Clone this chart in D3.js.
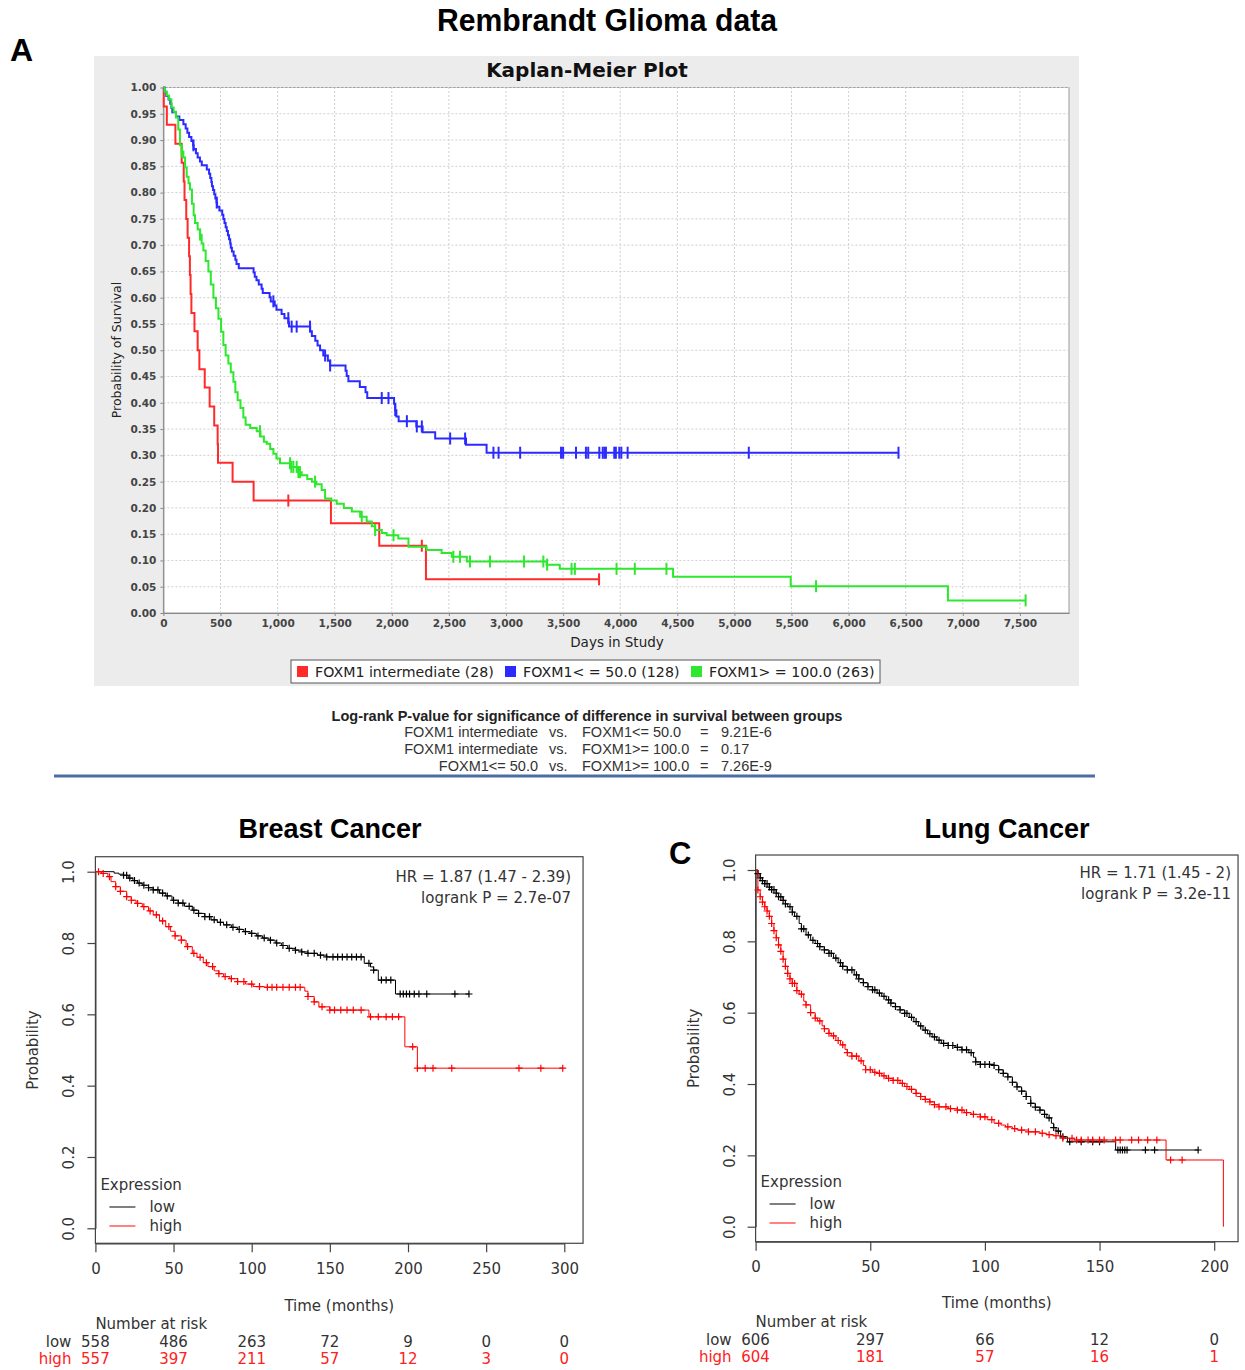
<!DOCTYPE html>
<html>
<head>
<meta charset="utf-8">
<script src="https://cdn.jsdelivr.net/npm/d3@7"></script>
<style>
  body { margin: 0; background: #fff; }
  svg { display: block; }
</style>
</head>
<body>
<div id="fig"></div>
<script>
// ---------- Panel A: Rembrandt glioma, days in study ----------
// [day, survival after the drop]
const kmRedSteps = [[0,1.0],[3,0.964],[30,0.929],[105,0.893],[160,0.857],[178,0.821],[185,0.786],[200,0.75],
  [212,0.714],[225,0.679],[232,0.643],[238,0.607],[245,0.571],[272,0.536],[300,0.50],[315,0.464],[362,0.429],
  [405,0.393],[445,0.357],[475,0.321],[478,0.286],[606,0.25],[790,0.214],[1467,0.171],[1890,0.128],[2299,0.064]];
const kmRedCensor = [1094, 2263, 3815];

const kmBlueSteps = [[0,1.0],[10,0.992],[25,0.984],[45,0.977],[60,0.969],[70,0.961],[78,0.953],[110,0.945],
  [140,0.938],[175,0.93],[195,0.922],[210,0.914],[225,0.906],[245,0.898],[260,0.89],[265,0.883],[285,0.875],
  [300,0.867],[320,0.859],[336,0.852],[380,0.844],[400,0.836],[410,0.828],[420,0.82],[425,0.812],[435,0.805],
  [445,0.797],[455,0.789],[465,0.781],[470,0.773],[490,0.766],[515,0.758],[525,0.75],[535,0.742],[545,0.734],
  [555,0.727],[565,0.719],[575,0.711],[585,0.703],[590,0.695],[600,0.688],[615,0.68],[630,0.672],[640,0.664],
  [660,0.656],[790,0.648],[800,0.64],[815,0.633],[835,0.625],[860,0.617],[870,0.609],[930,0.601],[940,0.593],
  [975,0.585],[990,0.577],[1035,0.569],[1060,0.561],[1095,0.553],[1100,0.545],[1285,0.536],[1300,0.527],
  [1330,0.518],[1350,0.509],[1372,0.50],[1400,0.49],[1440,0.48],[1460,0.471],[1595,0.461],[1605,0.451],
  [1620,0.441],[1720,0.43],[1770,0.42],[1785,0.409],[2020,0.398],[2030,0.386],[2040,0.374],[2060,0.365],
  [2215,0.355],[2270,0.344],[2380,0.332],[2650,0.32],[2830,0.305]];
const kmBlueCensor = [263, 467, 963, 1094, 1123, 1167, 1284, 1416, 1460, 1912, 1971, 2030, 2132, 2219, 2263,
  2511, 2642, 2890, 2935, 3124, 3482, 3500, 3613, 3700, 3720, 3817, 3847, 3862, 3875, 3948, 3962, 3992, 4010,
  4065, 5126, 6437];

const kmGreenSteps = [[0,1.0],[10,0.992],[30,0.985],[50,0.977],[70,0.962],[90,0.954],[110,0.943],[130,0.92],
  [145,0.89],[160,0.878],[175,0.867],[190,0.848],[204,0.83],[220,0.818],[233,0.806],[250,0.779],[265,0.757],
  [277,0.742],[300,0.73],[321,0.72],[335,0.703],[350,0.69],[370,0.67],[394,0.65],[415,0.625],[438,0.60],
  [460,0.58],[482,0.56],[505,0.535],[525,0.51],[545,0.49],[569,0.475],[590,0.458],[613,0.44],[630,0.42],
  [650,0.405],[675,0.39],[700,0.372],[720,0.358],[760,0.352],[817,0.346],[850,0.336],[880,0.326],[905,0.322],
  [935,0.312],[963,0.303],[990,0.294],[1021,0.285],[1110,0.278],[1180,0.268],[1211,0.262],[1260,0.255],
  [1300,0.25],[1340,0.245],[1386,0.234],[1416,0.218],[1470,0.214],[1518,0.208],[1580,0.2],[1650,0.193],
  [1723,0.183],[1780,0.174],[1825,0.165],[1854,0.158],[1912,0.152],[1955,0.148],[2057,0.142],[2146,0.126],
  [2305,0.12],[2436,0.114],[2525,0.107],[2657,0.098],[3355,0.092],[3471,0.084],[4463,0.069],[5493,0.051],
  [6870,0.024]];
const kmGreenCensor = [160, 321, 846, 1109, 1120, 1138, 1167, 1182, 1196, 1328, 1737, 1854, 2015, 2539, 2597,
  2685, 2860, 3158, 3327, 3360, 3574, 3603, 3968, 4128, 4405, 5715, 7550];

const kmLegend = ["FOXM1 intermediate (28)", "FOXM1< = 50.0 (128)", "FOXM1> = 100.0 (263)"];
const kmColors = ["#ff2a2a", "#2b2bff", "#2ee82e"];
const kmYTicks = d3.range(0, 1.0001, 0.05);
const kmXTicks = d3.range(0, 7501, 500);

const logrankLeft = ["FOXM1 intermediate", "FOXM1 intermediate", "FOXM1<= 50.0"];
const logrankRight = ["FOXM1<= 50.0", "FOXM1>= 100.0", "FOXM1>= 100.0"];
const logrankP = ["9.21E-6", "0.17", "7.26E-9"];

// ---------- Panel B: breast cancer, months ----------
const breastLowSteps = [[0,1.0],[12,0.996],[15,0.993],[18,0.99],[21,0.982],[24,0.975],[27,0.968],[30,0.962],
  [34,0.955],[37,0.949],[41,0.94],[45,0.932],[49,0.92],[53,0.912],[57,0.903],[62,0.892],[66,0.883],[70,0.874],
  [74,0.865],[78,0.858],[82,0.851],[87,0.844],[91,0.838],[95,0.832],[99,0.827],[103,0.82],[107,0.814],
  [111,0.808],[115,0.8],[119,0.793],[123,0.785],[128,0.78],[132,0.775],[136,0.771],[142,0.766],[148,0.761],
  [172,0.743],[176,0.733],[178,0.724],[181,0.696],[192,0.657]];
const breastLowCensor = [18, 20, 22, 25, 28, 31, 34, 37, 40, 43, 46, 50, 53, 56, 60, 63, 66, 70, 73, 76, 80,
  84, 88, 92, 96, 100, 104, 108, 112, 116, 120, 124, 128, 132, 136, 140, 144, 148, 152, 155, 158, 161, 164,
  167, 170, 175, 178, 183, 186, 189, 195, 197, 199, 201, 204, 207, 212, 230, 239];
const breastHighSteps = [[0,1.0],[4,0.995],[8,0.986],[10,0.972],[13,0.958],[16,0.945],[20,0.93],[23,0.92],
  [26,0.911],[30,0.902],[34,0.89],[37,0.879],[41,0.862],[45,0.846],[48,0.833],[51,0.82],[55,0.808],[58,0.79],
  [62,0.771],[65,0.76],[69,0.745],[72,0.734],[76,0.722],[79,0.714],[82,0.706],[86,0.7],[91,0.692],[96,0.685],
  [101,0.678],[108,0.676],[134,0.665],[136,0.65],[140,0.635],[143,0.621],[150,0.612],[175,0.593],[198,0.509],
  [206,0.449]];
const breastHighCensor = [2, 5, 9, 13, 16, 20, 23, 27, 31, 35, 39, 43, 47, 51, 55, 59, 63, 67, 71, 75, 79, 83,
  87, 91, 95, 100, 105, 110, 113, 116, 120, 124, 128, 131, 136, 140, 145, 150, 153, 157, 161, 165, 170, 176,
  181, 186, 190, 194, 203, 206, 211, 216, 228, 271, 285, 299];
const breastRiskTimes = [0, 50, 100, 150, 200, 250, 300];
const breastRiskLow = [558, 486, 263, 72, 9, 0, 0];
const breastRiskHigh = [557, 397, 211, 57, 12, 3, 0];
const breastStats = ["HR = 1.87 (1.47 - 2.39)", "logrank P = 2.7e-07"];

// ---------- Panel C: lung cancer, months ----------
const lungLowSteps = [[0,1.0],[1,0.99],[2,0.978],[3,0.97],[4,0.962],[6,0.952],[7,0.945],[9,0.935],[10,0.925],
  [12,0.915],[13,0.905],[14,0.897],[16,0.882],[17,0.87],[19,0.85],[20,0.835],[22,0.818],[24,0.803],[26,0.794],
  [28,0.785],[30,0.776],[32,0.766],[34,0.753],[36,0.74],[38,0.73],[40,0.72],[43,0.706],[45,0.695],[47,0.684],
  [49,0.673],[51,0.664],[53,0.655],[55,0.646],[57,0.636],[59,0.627],[61,0.617],[63,0.608],[65,0.598],
  [67,0.587],[69,0.575],[71,0.563],[73,0.551],[75,0.541],[77,0.532],[79,0.523],[81,0.514],[84,0.508],
  [87,0.503],[90,0.496],[93,0.488],[95,0.475],[96,0.462],[98,0.455],[104,0.452],[106,0.44],[108,0.43],
  [110,0.42],[112,0.405],[114,0.392],[116,0.38],[118,0.365],[120,0.346],[122,0.335],[124,0.327],[126,0.315],
  [127,0.305],[129,0.29],[130,0.278],[131,0.268],[133,0.252],[136,0.238],[157,0.215]];
const lungLowCensor = [1, 2, 3, 4, 5, 6, 7, 8, 9, 10, 11, 12, 13, 15, 16, 18, 20, 21, 23, 25, 27, 28, 30, 32,
  33, 35, 37, 38, 40, 42, 44, 45, 47, 49, 51, 52, 54, 56, 58, 59, 61, 63, 65, 66, 68, 70, 72, 74, 76, 78, 80,
  82, 84, 86, 88, 90, 92, 94, 96, 98, 100, 102, 104, 106, 108, 110, 112, 114, 116, 118, 120, 122, 124, 126,
  128, 130, 132, 134, 137, 142, 147, 150, 158, 159, 160, 161, 162, 170, 174, 193];
const lungHighSteps = [[0,1.0],[1,0.944],[2,0.925],[3,0.91],[4,0.897],[5,0.885],[6,0.87],[7,0.85],[8,0.83],
  [9,0.81],[10,0.79],[11,0.772],[12,0.75],[13,0.73],[14,0.71],[15,0.695],[16,0.682],[18,0.662],[19,0.652],
  [21,0.632],[22,0.622],[24,0.6],[26,0.585],[27,0.577],[29,0.563],[30,0.555],[32,0.542],[33,0.535],[35,0.522],
  [37,0.51],[39,0.497],[40,0.488],[42,0.478],[45,0.465],[47,0.452],[48,0.44],[51,0.433],[53,0.43],[55,0.423],
  [57,0.416],[60,0.41],[63,0.402],[65,0.393],[67,0.385],[70,0.374],[72,0.365],[74,0.357],[76,0.35],[78,0.342],
  [80,0.336],[84,0.331],[88,0.327],[91,0.32],[94,0.315],[98,0.308],[101,0.3],[104,0.29],[107,0.285],
  [109,0.28],[112,0.275],[114,0.271],[119,0.266],[124,0.262],[127,0.258],[130,0.255],[134,0.248],[139,0.243],
  [179,0.187],[204,0.0]];
const lungHighCensor = [1, 2, 3, 4, 5, 6, 7, 8, 9, 10, 11, 12, 13, 14, 15, 16, 17, 18, 20, 22, 24, 26, 28, 30,
  32, 34, 36, 38, 40, 42, 44, 46, 48, 50, 52, 54, 56, 58, 60, 62, 64, 66, 68, 70, 72, 74, 76, 78, 80, 83, 85,
  88, 90, 92, 95, 98, 100, 103, 106, 110, 113, 116, 119, 122, 125, 128, 131, 134, 138, 140, 142, 145, 147,
  150, 152, 157, 159, 164, 167, 171, 175, 181, 186];
const lungRiskTimes = [0, 50, 100, 150, 200];
const lungRiskLow = [606, 297, 66, 12, 0];
const lungRiskHigh = [604, 181, 57, 16, 1];
const lungStats = ["HR = 1.71 (1.45 - 2)", "logrank P = 3.2e-11"];

const W = 1245, H = 1370;
const ARIAL = "'Liberation Sans', Arial, Helvetica, sans-serif";
const DEJAVU = "'DejaVu Sans', Verdana, sans-serif";

var svg = d3.select("#fig").append("svg")
  .attr("width", W).attr("height", H)
  .style("font-family", DEJAVU);

function survAt(steps, t) {
  var s = steps[0][1];
  steps.forEach(function(p) { if (p[0] <= t) s = p[1]; });
  return s;
}

function stepLine(steps, censor, x, y) {
  var last = steps[steps.length - 1];
  var end = Math.max(last[0], d3.max(censor));
  var pts = steps.concat([[end, last[1]]]);
  return d3.line()
    .x(function(d) { return x(d[0]); })
    .y(function(d) { return y(d[1]); })
    .curve(d3.curveStepAfter)(pts);
}

// ---------- headline ----------
svg.append("text")
  .attr("x", 607).attr("y", 31)
  .attr("text-anchor", "middle")
  .attr("textLength", 340).attr("lengthAdjust", "spacingAndGlyphs")
  .style("font-family", "'Liberation Sans Narrow', 'Arial Narrow', " + ARIAL)
  .style("font-weight", "bold").style("font-size", "31px")
  .text("Rembrandt Glioma data");

svg.append("text").attr("x", 10).attr("y", 61)
  .style("font-family", ARIAL).style("font-weight", "bold").style("font-size", "32px")
  .text("A");

// ---------- panel A ----------
var gA = svg.append("g");
gA.append("rect")
  .attr("x", 94).attr("y", 56).attr("width", 985).attr("height", 630)
  .attr("fill", "#ececec");

var xA = d3.scaleLinear().domain([0, 7930]).range([163.4, 1069]);
var yA = d3.scaleLinear().domain([0, 1]).range([613, 87.5]);

gA.append("rect")
  .attr("x", xA(0)).attr("y", yA(1))
  .attr("width", xA(7930) - xA(0)).attr("height", yA(0) - yA(1))
  .attr("fill", "#fff").attr("stroke", "#9a9a9a");

gA.append("text")
  .attr("x", 587).attr("y", 77).attr("text-anchor", "middle")
  .style("font-weight", "bold").style("font-size", "20px").attr("fill", "#111")
  .text("Kaplan-Meier Plot");

// dotted grid
gA.selectAll(".vgrid").data(kmXTicks.slice(1)).enter().append("line")
  .attr("x1", function(d) { return xA(d); }).attr("x2", function(d) { return xA(d); })
  .attr("y1", yA(0)).attr("y2", yA(1))
  .attr("stroke", "#cfcfcf").attr("stroke-dasharray", "2,2");
gA.selectAll(".hgrid").data(kmYTicks.slice(1)).enter().append("line")
  .attr("x1", xA(0)).attr("x2", xA(7930))
  .attr("y1", function(d) { return yA(d); }).attr("y2", function(d) { return yA(d); })
  .attr("stroke", "#cfcfcf").attr("stroke-dasharray", "2,2");

var axLeftA = gA.append("g")
  .attr("transform", "translate(" + xA(0) + ",0)")
  .call(d3.axisLeft(yA).tickValues(kmYTicks).tickSize(3).tickSizeOuter(0).tickPadding(4)
    .tickFormat(d3.format(".2f")));
var axBottomA = gA.append("g")
  .attr("transform", "translate(0," + yA(0) + ")")
  .call(d3.axisBottom(xA).tickValues(kmXTicks).tickSize(3).tickSizeOuter(0).tickPadding(4)
    .tickFormat(d3.format(",")));
[axLeftA, axBottomA].forEach(function(ax) {
  ax.select(".domain").attr("stroke", "#888");
  ax.selectAll(".tick line").attr("stroke", "#888");
  ax.selectAll("text")
    .style("font-family", DEJAVU).style("font-size", "10.5px").style("font-weight", "bold")
    .attr("fill", "#444");
});

gA.append("text")
  .attr("transform", "translate(121,350) rotate(-90)")
  .attr("text-anchor", "middle").style("font-size", "12.5px").attr("fill", "#222")
  .text("Probability of Survival");
gA.append("text")
  .attr("x", 617).attr("y", 647).attr("text-anchor", "middle")
  .style("font-size", "13.5px").attr("fill", "#222")
  .text("Days in Study");

var kmSeries = [
  { steps: kmRedSteps, censor: kmRedCensor },
  { steps: kmBlueSteps, censor: kmBlueCensor },
  { steps: kmGreenSteps, censor: kmGreenCensor }
];
kmSeries.forEach(function(sr, i) {
  gA.append("path")
    .attr("d", stepLine(sr.steps, sr.censor, xA, yA))
    .attr("fill", "none").attr("stroke", kmColors[i]).attr("stroke-width", 2);
  gA.selectAll(null).data(sr.censor).enter().append("line")
    .attr("x1", function(d) { return xA(d); }).attr("x2", function(d) { return xA(d); })
    .attr("y1", function(d) { return yA(survAt(sr.steps, d)) - 6; })
    .attr("y2", function(d) { return yA(survAt(sr.steps, d)) + 6; })
    .attr("stroke", kmColors[i]).attr("stroke-width", 2);
});

// legend box
gA.append("rect")
  .attr("x", 291).attr("y", 660).attr("width", 589).attr("height", 23)
  .attr("fill", "#fff").attr("stroke", "#555");
var legX = [297, 505, 691];
kmLegend.forEach(function(lab, i) {
  gA.append("rect").attr("x", legX[i]).attr("y", 666).attr("width", 11).attr("height", 11)
    .attr("fill", kmColors[i]);
  gA.append("text").attr("x", legX[i] + 18).attr("y", 677)
    .style("font-size", "14.2px").attr("fill", "#222").text(lab);
});

// log-rank table
var gLR = svg.append("g").style("font-family", ARIAL);
gLR.append("text")
  .attr("x", 587).attr("y", 721).attr("text-anchor", "middle")
  .style("font-weight", "bold").style("font-size", "14.5px").attr("fill", "#222")
  .text("Log-rank P-value for significance of difference in survival between groups");
logrankLeft.forEach(function(l, i) {
  var yy = 737 + i * 17;
  gLR.append("text").attr("x", 538).attr("y", yy).attr("text-anchor", "end")
    .style("font-size", "14.5px").attr("fill", "#333").text(l);
  gLR.append("text").attr("x", 549).attr("y", yy)
    .style("font-size", "14.5px").attr("fill", "#333").text("vs.");
  gLR.append("text").attr("x", 582).attr("y", yy)
    .style("font-size", "14.5px").attr("fill", "#333").text(logrankRight[i]);
  gLR.append("text").attr("x", 700).attr("y", yy)
    .style("font-size", "14.5px").attr("fill", "#333").text("=");
  gLR.append("text").attr("x", 721).attr("y", yy)
    .style("font-size", "14.5px").attr("fill", "#333").text(logrankP[i]);
});

svg.append("line")
  .attr("x1", 54).attr("x2", 1095).attr("y1", 776).attr("y2", 776)
  .attr("stroke", "#4a6ea3").attr("stroke-width", 3);

// ---------- R style survival panels ----------
function rPanel(o) {
  var g = svg.append("g").style("font-family", DEJAVU);
  var x = d3.scaleLinear().domain([0, o.xMax]).range(o.xRange);
  var y = d3.scaleLinear().domain([0, 1]).range(o.yRange);
  var boxTop = y(1.042), boxBottom = y(-0.042);

  g.append("text")
    .attr("x", o.titleX).attr("y", 838).attr("text-anchor", "middle")
    .style("font-family", ARIAL).style("font-weight", "bold").style("font-size", "27px")
    .text(o.title);

  g.append("rect")
    .attr("x", x(0)).attr("y", boxTop)
    .attr("width", x(o.boxMax) - x(0)).attr("height", boxBottom - boxTop)
    .attr("fill", "none").attr("stroke", "#444").attr("stroke-width", 1.2);

  var ax = g.append("g")
    .attr("transform", "translate(0," + boxBottom + ")")
    .call(d3.axisBottom(x).tickValues(o.riskTimes).tickSize(9).tickSizeOuter(0).tickPadding(11)
      .tickFormat(d3.format("d")));
  var ay = g.append("g")
    .attr("transform", "translate(" + x(0) + ",0)")
    .call(d3.axisLeft(y).tickValues([0, 0.2, 0.4, 0.6, 0.8, 1]).tickSize(8).tickSizeOuter(0)
      .tickFormat(d3.format(".1f")));
  [ax, ay].forEach(function(a) {
    a.select(".domain").attr("stroke", "#444").attr("stroke-width", 1.2);
    a.selectAll(".tick line").attr("stroke", "#444").attr("stroke-width", 1.2);
    a.selectAll("text").style("font-family", DEJAVU).style("font-size", "15px").attr("fill", "#333");
  });
  ay.selectAll(".tick text")
    .attr("x", null).attr("dy", null)
    .attr("text-anchor", "middle")
    .attr("transform", "translate(" + (-o.yLabelOff) + ",0) rotate(-90)");

  g.append("text")
    .attr("transform", "translate(" + o.probX + "," + ((boxTop + boxBottom) / 2) + ") rotate(-90)")
    .attr("text-anchor", "middle").style("font-size", "15px").attr("fill", "#333")
    .text("Probability");
  g.append("text")
    .attr("x", (x(0) + x(o.boxMax)) / 2).attr("y", o.timeY).attr("text-anchor", "middle")
    .style("font-size", "15px").attr("fill", "#333")
    .text("Time (months)");

  // curves
  var series = [
    { steps: o.lowSteps, censor: o.lowCensor, color: "#000" },
    { steps: o.highSteps, censor: o.highCensor, color: "#ff0000" }
  ];
  series.forEach(function(sr) {
    g.append("path")
      .attr("d", stepLine(sr.steps, sr.censor, x, y))
      .attr("fill", "none").attr("stroke", sr.color).attr("stroke-width", 1);
    g.selectAll(null).data(sr.censor).enter().append("path")
      .attr("d", function(d) {
        var cx = x(d), cy = y(survAt(sr.steps, d));
        return "M" + (cx - 3.5) + "," + cy + "H" + (cx + 3.5) + "M" + cx + "," + (cy - 3.5) + "V" + (cy + 3.5);
      })
      .attr("stroke", sr.color).attr("stroke-width", 1.2);
  });

  // stats text
  o.stats.forEach(function(s, i) {
    g.append("text")
      .attr("x", o.statsX).attr("y", o.statsY + i * 21).attr("text-anchor", "end")
      .style("font-size", "15px").attr("fill", "#333").text(s);
  });

  // legend
  var lx = x(0);
  g.append("text").attr("x", lx + 5).attr("y", o.legY)
    .style("font-size", "15px").attr("fill", "#333").text("Expression");
  [["low", "#555"], ["high", "#ff5a5a"]].forEach(function(e, i) {
    var yy = o.legY + 22 + i * 19;
    g.append("line").attr("x1", lx + 14).attr("x2", lx + 40)
      .attr("y1", yy - 5).attr("y2", yy - 5)
      .attr("stroke", e[1]).attr("stroke-width", 1.5);
    g.append("text").attr("x", lx + 54).attr("y", yy)
      .style("font-size", "15px").attr("fill", "#333").text(e[0]);
  });

  // number at risk
  g.append("text").attr("x", x(0)).attr("y", o.riskY)
    .style("font-size", "15px").attr("fill", "#333").text("Number at risk");
  [[o.riskLow, "low", "#333"], [o.riskHigh, "high", "#ff2020"]].forEach(function(r, i) {
    var yy = o.riskY + 18 + i * 17;
    g.append("text").attr("x", x(0) - 24).attr("y", yy).attr("text-anchor", "end")
      .style("font-size", "15px").attr("fill", r[2]).text(r[1]);
    g.selectAll(null).data(r[0]).enter().append("text")
      .attr("x", function(d, j) { return x(o.riskTimes[j]); })
      .attr("y", yy).attr("text-anchor", "middle")
      .style("font-size", "15px").attr("fill", r[2])
      .text(function(d) { return d; });
  });
  return g;
}

rPanel({
  title: "Breast Cancer", titleX: 330,
  xMax: 300, boxMax: 312, xRange: [95.4, 564.3], yRange: [1228.3, 871.7],
  yLabelOff: 21, probX: 38, timeY: 1311,
  lowSteps: breastLowSteps, lowCensor: breastLowCensor,
  highSteps: breastHighSteps, highCensor: breastHighCensor,
  stats: breastStats, statsX: 571, statsY: 882,
  legY: 1190,
  riskTimes: breastRiskTimes, riskLow: breastRiskLow, riskHigh: breastRiskHigh, riskY: 1329
});

rPanel({
  title: "Lung Cancer", titleX: 1007,
  xMax: 200, boxMax: 210.4, xRange: [755.6, 1214.2], yRange: [1226.7, 870],
  yLabelOff: 21, probX: 699, timeY: 1308,
  lowSteps: lungLowSteps, lowCensor: lungLowCensor,
  highSteps: lungHighSteps, highCensor: lungHighCensor,
  stats: lungStats, statsX: 1231, statsY: 878,
  legY: 1187,
  riskTimes: lungRiskTimes, riskLow: lungRiskLow, riskHigh: lungRiskHigh, riskY: 1327
});

svg.append("text").attr("x", 669).attr("y", 864)
  .style("font-family", ARIAL).style("font-weight", "bold").style("font-size", "31px")
  .text("C");
</script>
</body>
</html>
